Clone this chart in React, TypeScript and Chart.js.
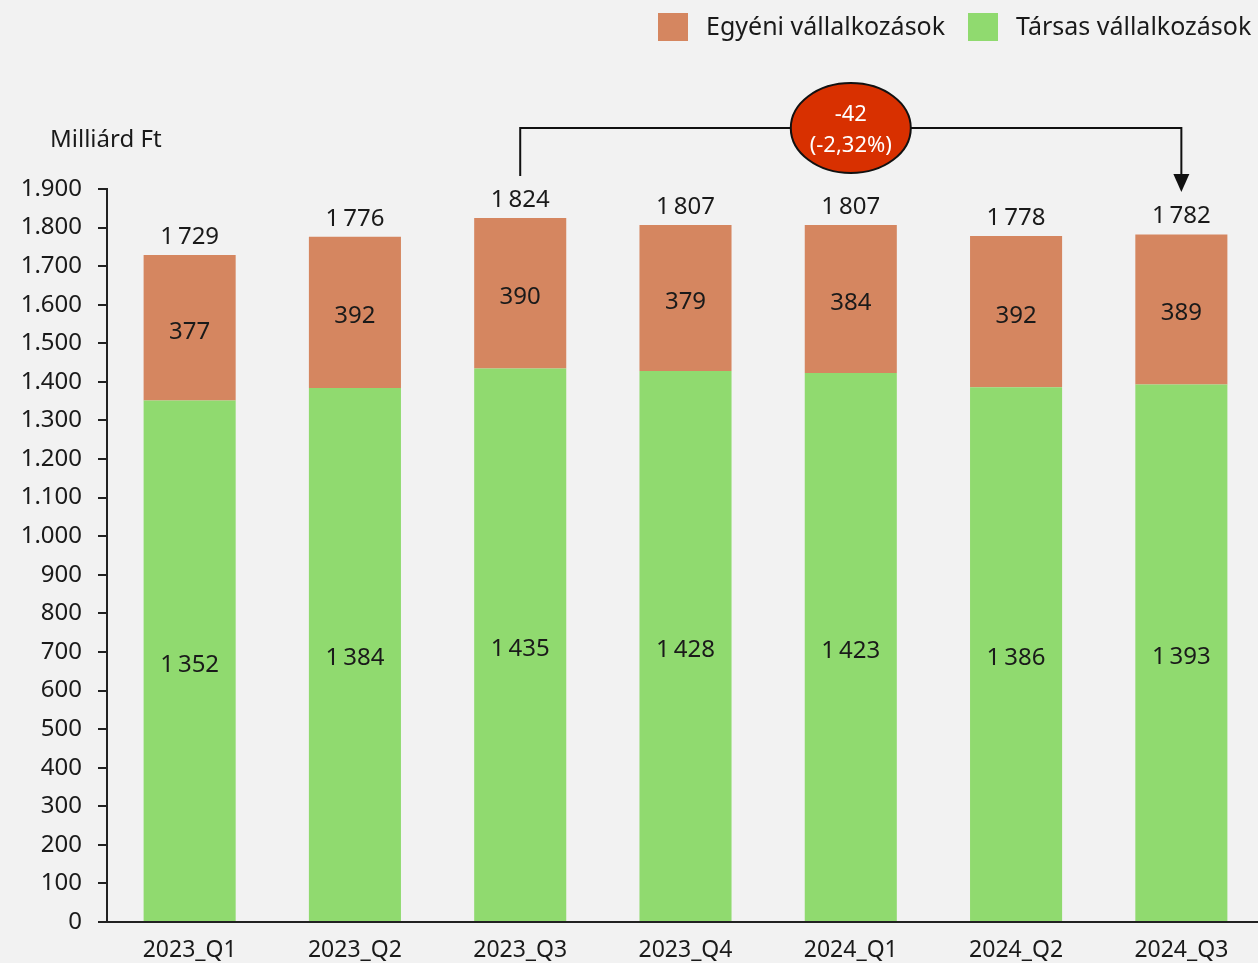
import React, { useEffect, useRef } from "react";
import { Chart, registerables } from "chart.js";

Chart.register(...registerables);

const categories = ["2023_Q1", "2023_Q2", "2023_Q3", "2023_Q4", "2024_Q1", "2024_Q2", "2024_Q3"];
const egyeni = [377, 392, 390, 379, 384, 392, 389];
const tarsas = [1352, 1384, 1435, 1428, 1423, 1386, 1393];
const totals = [1729, 1776, 1824, 1807, 1807, 1778, 1782];
const seriesNames = ["Egyéni vállalkozások", "Társas vállalkozások"];
const changeLabel = ["-42", "(-2,32%)"];
const changeFrom = 2;
const changeTo = 6;
const yAxisTitle = "Milliárd Ft";

const ORANGE = "#d58660";
const GREEN = "#90da6f";
const RED = "#d83000";
const TEXT = "#1a1a1a";
const FONT = "'Noto Sans', sans-serif";

const fmtSpace = (v: number) => {
  const s = String(v);
  return s.length > 3 ? s.slice(0, s.length - 3) + "\u2009" + s.slice(-3) : s;
};
const fmtDot = (v: number) => {
  const s = String(v);
  return s.length > 3 ? s.slice(0, s.length - 3) + "." + s.slice(-3) : s;
};

const overlay = {
  id: "overlay",
  afterDatasetsDraw(chart: any) {
    const ctx = chart.ctx;
    const x = chart.scales.x;
    const y = chart.scales.y;
    ctx.save();
    ctx.fillStyle = TEXT;
    ctx.textAlign = "center";
    ctx.textBaseline = "middle";
    ctx.font = `24px ${FONT}`;
    chart.data.datasets.forEach((ds: any, di: number) => {
      const meta = chart.getDatasetMeta(di);
      meta.data.forEach((bar: any, i: number) => {
        const cy = (bar.y + bar.base) / 2;
        ctx.fillText(fmtSpace(ds.data[i]), bar.x, cy + 4);
      });
    });
    totals.forEach((t, i) => {
      const px = x.getPixelForValue(i);
      const py = y.getPixelForValue(t);
      ctx.fillText(fmtSpace(t), px, py - 18);
    });
    const x1 = x.getPixelForValue(changeFrom);
    const x2 = x.getPixelForValue(changeTo);
    const top = chart.chartArea.top;
    const by = top - 61;
    ctx.strokeStyle = "#111";
    ctx.lineWidth = 2;
    ctx.beginPath();
    ctx.moveTo(x1, top - 13);
    ctx.lineTo(x1, by);
    ctx.lineTo(x2, by);
    ctx.lineTo(x2, top - 14);
    ctx.stroke();
    ctx.fillStyle = "#111";
    ctx.beginPath();
    ctx.moveTo(x2 - 8, top - 15);
    ctx.lineTo(x2 + 8, top - 15);
    ctx.lineTo(x2, top + 3);
    ctx.closePath();
    ctx.fill();
    const cx = x.getPixelForValue(4);
    ctx.beginPath();
    ctx.ellipse(cx, by, 60, 45, 0, 0, Math.PI * 2);
    ctx.fillStyle = RED;
    ctx.fill();
    ctx.lineWidth = 2;
    ctx.strokeStyle = "#111";
    ctx.stroke();
    ctx.fillStyle = "#ffffff";
    ctx.font = `22px ${FONT}`;
    ctx.fillText(changeLabel[0], cx, by - 13);
    ctx.fillText(changeLabel[1], cx, by + 18);
    ctx.fillStyle = TEXT;
    ctx.textAlign = "left";
    ctx.font = `24px ${FONT}`;
    ctx.fillText(yAxisTitle, 50, 140);
    ctx.font = `25px ${FONT}`;
    const legend = [
      { c: ORANGE, t: seriesNames[0], bx: 658, tx: 706 },
      { c: GREEN, t: seriesNames[1], bx: 968, tx: 1016 },
    ];
    legend.forEach((l) => {
      ctx.fillStyle = l.c;
      ctx.fillRect(l.bx, 13, 30, 28);
      ctx.fillStyle = TEXT;
      ctx.fillText(l.t, l.tx, 28);
    });
    ctx.restore();
  },
};

export default function App() {
  const ref = useRef<HTMLCanvasElement>(null);
  useEffect(() => {
    if (!ref.current) return;
    const chart = new Chart(ref.current, {
      type: "bar",
      data: {
        labels: categories,
        datasets: [
          { label: seriesNames[1], data: tarsas, backgroundColor: GREEN, stack: "s" },
          { label: seriesNames[0], data: egyeni, backgroundColor: ORANGE, stack: "s" },
        ],
      },
      options: {
        animation: false,
        responsive: false,
        devicePixelRatio: 1,
        layout: { padding: { top: 189, left: 0, right: 0, bottom: 0 } },
        plugins: { legend: { display: false }, tooltip: { enabled: false } },
        datasets: { bar: { categoryPercentage: 1, barPercentage: 0.557 } },
        scales: {
          x: {
            stacked: true,
            grid: { display: false },
            border: { display: true, color: "#222", width: 2 },
            ticks: { color: TEXT, font: { family: FONT, size: 23 }, padding: 7, maxRotation: 0 },
            afterFit: (s: any) => { s.height = 41; },
          },
          y: {
            stacked: true,
            min: 0,
            max: 1900,
            grid: { display: true, drawOnChartArea: false, drawTicks: true, tickLength: 9, color: "#222", lineWidth: 2 },
            border: { display: true, color: "#222", width: 2 },
            ticks: { stepSize: 100, color: TEXT, font: { family: FONT, size: 24 }, padding: 16, callback: (v: any) => fmtDot(Number(v)) },
            afterFit: (s: any) => { s.width = 107; },
          },
        },
      },
      plugins: [overlay],
    });
    return () => chart.destroy();
  }, []);
  return (
    <div style={{ position: "fixed", left: 0, top: 0, width: 1258, height: 963, overflow: "hidden", background: "#f2f2f2" }}>
      <canvas ref={ref} width={1264} height={963} style={{ display: "block" }} />
    </div>
  );
}
